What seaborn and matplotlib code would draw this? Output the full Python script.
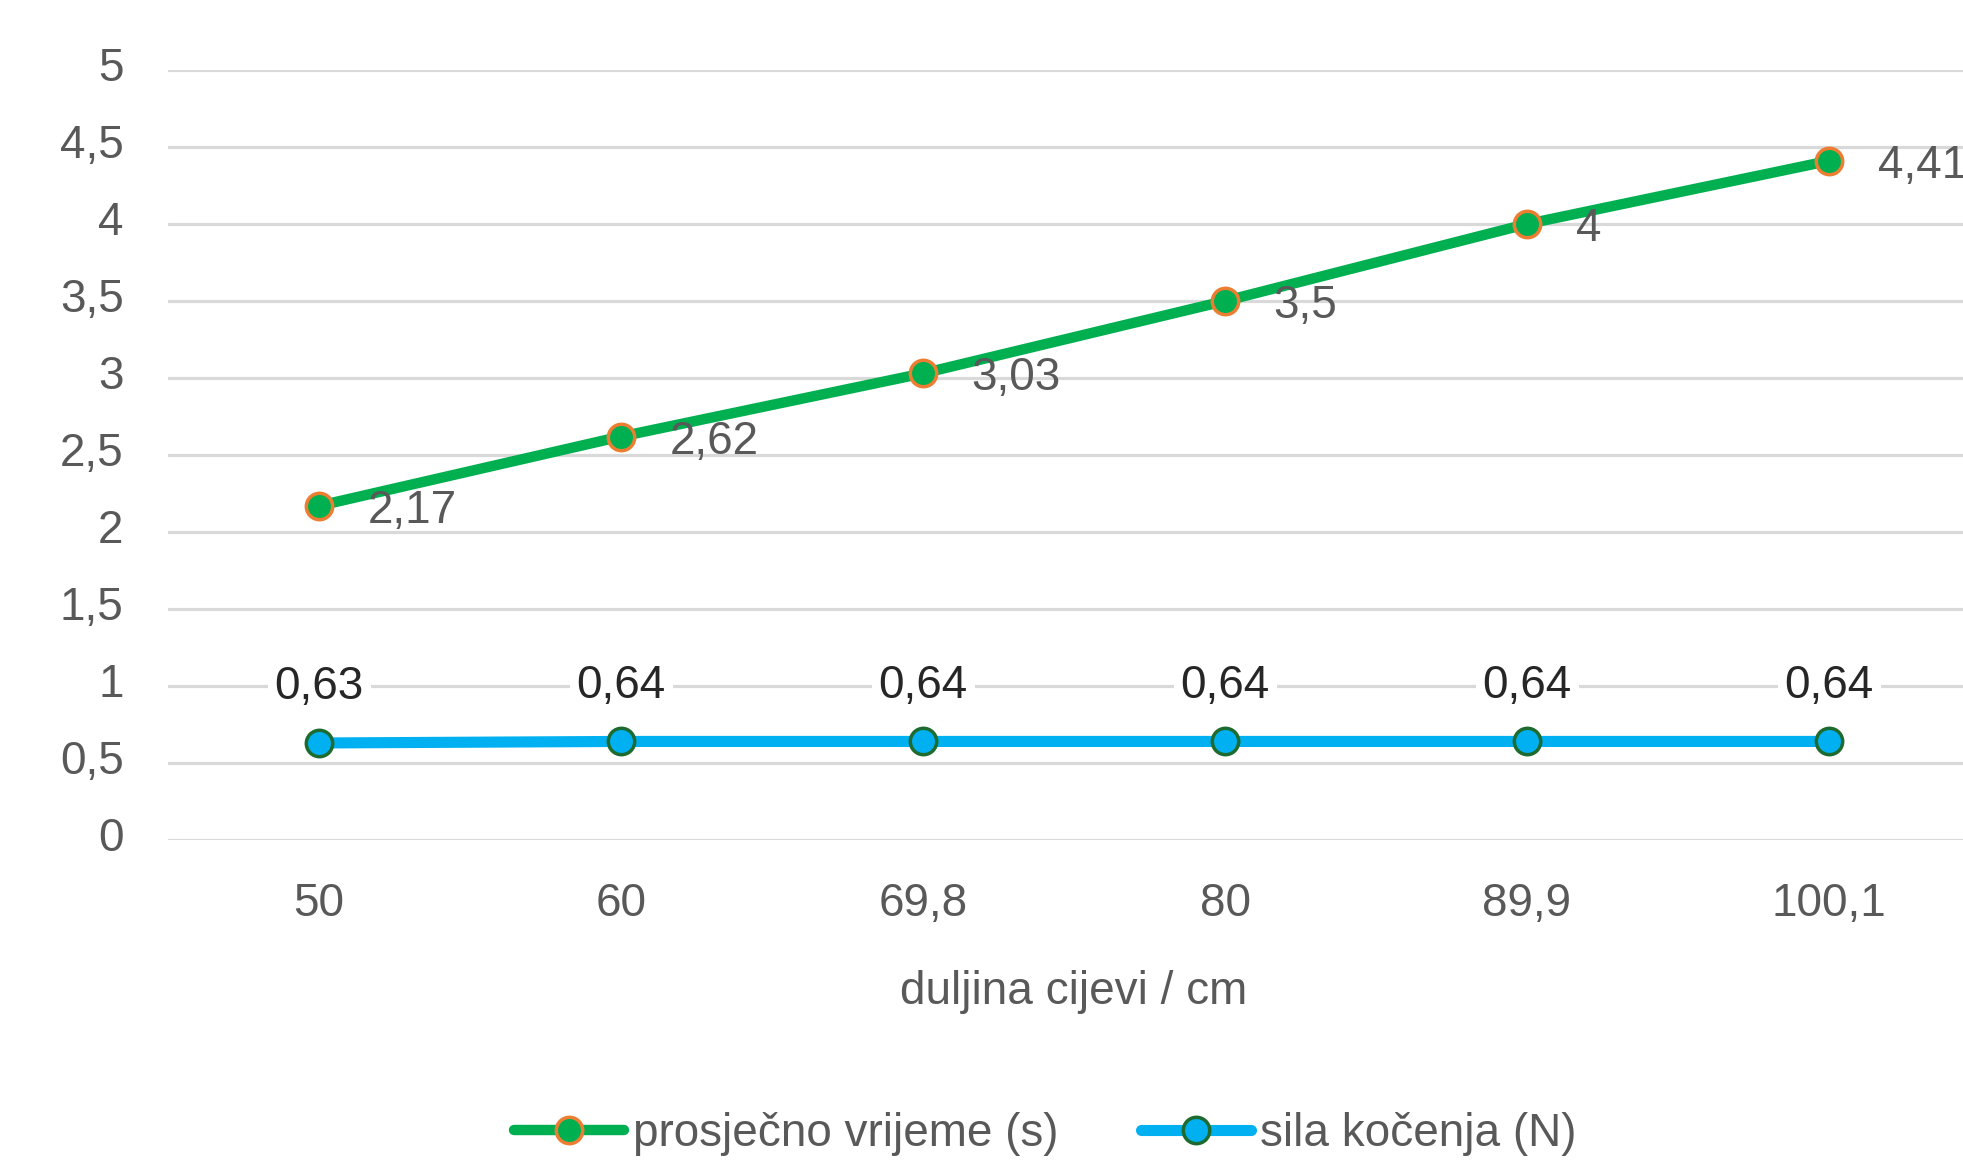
import numpy as np
import pandas as pd
import matplotlib
matplotlib.use('Agg')
import matplotlib.pyplot as plt
import matplotlib.transforms as mtransforms
import seaborn as sns

# data
duljina = ["50", "60", "69,8", "80", "89,9", "100,1"]
vrijeme = [2.17, 2.62, 3.03, 3.5, 4.0, 4.41]
vrijeme_txt = ["2,17", "2,62", "3,03", "3,5", "4", "4,41"]
sila = [0.63, 0.64, 0.64, 0.64, 0.64, 0.64]
sila_txt = ["0,63", "0,64", "0,64", "0,64", "0,64", "0,64"]
y_ticks = [0, 0.5, 1, 1.5, 2, 2.5, 3, 3.5, 4, 4.5, 5]
y_tick_txt = ["0", "0,5", "1", "1,5", "2", "2,5", "3", "3,5", "4", "4,5", "5"]

df = pd.DataFrame({"duljina": duljina, "vrijeme": vrijeme, "sila": sila})

sns.set_theme(style="white")
plt.rcParams['font.family'] = ['Liberation Sans', 'DejaVu Sans']

FS = 33
GRAY = '#595959'

fig = plt.figure(figsize=(19.63, 11.61), dpi=100)
ax = fig.add_axes([168 / 1963, 321 / 1161, 1812 / 1963, 770 / 1161])

sns.lineplot(data=df, x="duljina", y="vrijeme", ax=ax, color='#00B050',
             linewidth=7.5, marker='o', markersize=19, markerfacecolor='#00B050',
             markeredgecolor='#ED7D31', markeredgewidth=2.5,
             label="prosječno vrijeme (s)", zorder=4)
sns.lineplot(data=df, x="duljina", y="sila", ax=ax, color='#00B0F0',
             linewidth=8, marker='o', markersize=19, markerfacecolor='#00B0F0',
             markeredgecolor='#1E6B30', markeredgewidth=2.5,
             label="sila kočenja (N)", zorder=4)

ax.set_xlim(-0.5, len(duljina) - 0.5)
ax.set_ylim(0, 5)
ax.set_yticks(y_ticks)
ax.set_yticklabels(y_tick_txt)
ax.set_xticks(range(len(duljina)))
ax.set_xticklabels(duljina)
ax.tick_params(axis='both', length=0, labelsize=FS, labelcolor=GRAY)
ax.tick_params(axis='y', pad=32)
ax.tick_params(axis='x', pad=30)
# y labels sit a little above their gridlines in the original
shift = mtransforms.ScaledTranslation(0, 6 / 100, fig.dpi_scale_trans)
for lab in ax.get_yticklabels():
    lab.set_transform(lab.get_transform() + shift)
ax.grid(axis='y', color='#D9D9D9', linewidth=2.3)
ax.grid(axis='x', visible=False)
ax.set_axisbelow(True)
for s in ax.spines.values():
    s.set_visible(False)

ax.set_xlabel("duljina cijevi / cm", fontsize=FS, color=GRAY, labelpad=32)
ax.set_ylabel("")

# data labels
for i, t in enumerate(vrijeme_txt):
    ax.annotate(t, (i, vrijeme[i]), xytext=(35, 0), textcoords='offset points',
                ha='left', va='center_baseline', fontsize=FS, color=GRAY, zorder=5)
for i, t in enumerate(sila_txt):
    ax.annotate(t, (i, sila[i]), xytext=(0, 40), textcoords='offset points',
                ha='center', va='center', fontsize=FS, color='#262626', zorder=5,
                bbox=dict(boxstyle='square,pad=0.15', fc='white', ec='none'))

handles, labels = ax.get_legend_handles_labels()
ax.get_legend().remove()
fig.legend(handles, labels, loc='center', bbox_to_anchor=(1045 / 1963, 27 / 1161),
           ncol=2, frameon=False, fontsize=FS, handlelength=2.4, handletextpad=0.2,
           columnspacing=1.8, labelcolor=GRAY)

fig.savefig('out.png', dpi=100)
plt.close(fig)
